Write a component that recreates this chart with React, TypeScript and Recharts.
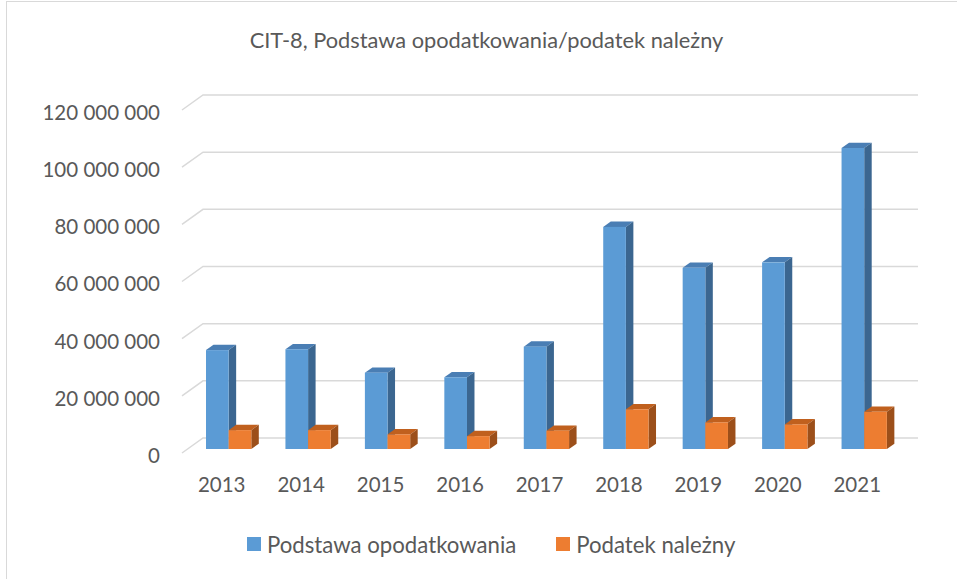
import React from 'react';
import { BarChart, Bar, XAxis, YAxis, CartesianGrid, Legend } from 'recharts';

const years = ['2013', '2014', '2015', '2016', '2017', '2018', '2019', '2020', '2021'];
const podstawa = [34600000, 34900000, 26700000, 25100000, 35800000, 77700000, 63400000, 65300000, 105300000];
const podatek = [6600000, 6600000, 5100000, 4500000, 6400000, 13900000, 9300000, 8600000, 13000000];
const yTicks = [0, 20000000, 40000000, 60000000, 80000000, 100000000, 120000000];
const seriesNames = ['Podstawa opodatkowania', 'Podatek należny'];
const title = 'CIT-8, Podstawa opodatkowania/podatek należny';

const data = years.map((year, i) => ({ year, podstawa: podstawa[i], podatek: podatek[i] }));

const FONT = 'Lato, "Open Sans", sans-serif';
const TEXT = '#595959';
const FS = 20.5;
const TITLE_FS = 21.8;
const LEGEND_FS = 22.2;

// 3D look parameters
const DX = 7;
const DY = -4;
const DW = 7.5;
const DH = 5.3;
const GX = 21;
const GY = 15;

const COLORS = {
  blue: { front: '#5B9BD5', top: '#4A7EB4', side: '#3B6690' },
  orange: { front: '#ED7D31', top: '#C0601E', side: '#9C4F1A' },
};

const fmt = (v: number) => String(v).replace(/\B(?=(\d{3})+(?!\d))/g, ' ');

const make3D = (c: { front: string; top: string; side: string }) => (props: any) => {
  const { x, y, width, height } = props;
  if (width == null || height == null || isNaN(x) || isNaN(y)) return <g />;
  const fx = x + DX;
  const fy = y + DY;
  const w = width;
  const h = height;
  return (
    <g>
      <polygon
        points={`${fx},${fy} ${fx + DW},${fy - DH} ${fx + w + DW},${fy - DH} ${fx + w},${fy}`}
        fill={c.top}
      />
      <polygon
        points={`${fx + w},${fy} ${fx + w + DW},${fy - DH} ${fx + w + DW},${fy + h - DH} ${fx + w},${fy + h}`}
        fill={c.side}
      />
      <rect x={fx} y={fy} width={w} height={h} fill={c.front} />
    </g>
  );
};

const gridLine = (props: any) => {
  const { x1, y1, x2, key } = props;
  return (
    <path
      key={key}
      d={`M${x1},${y1} L${x1 + GX},${y1 - GY} L${x2 + GX},${y1 - GY}`}
      stroke="#D9D9D9"
      strokeWidth={1.5}
      fill="none"
    />
  );
};

const YTick = (props: any) => {
  const { x, y, payload } = props;
  return (
    <text x={x} y={y + 2.5} dy="0.36em" textAnchor="end" fill={TEXT} fontSize={FS} fontFamily={FONT}>
      {fmt(payload.value)}
    </text>
  );
};

const XTick = (props: any) => {
  const { x, y, payload } = props;
  return (
    <text x={x} y={y} dy="0.36em" textAnchor="middle" fill={TEXT} fontSize={FS} fontFamily={FONT}>
      {payload.value}
    </text>
  );
};

const LegendContent = () => (
  <div
    style={{
      display: 'flex',
      alignItems: 'center',
      height: 40,
      paddingLeft: 247,
      fontFamily: FONT,
      fontSize: LEGEND_FS,
      color: TEXT,
      whiteSpace: 'nowrap',
    }}
  >
    <span style={{ display: 'inline-block', width: 14, height: 14, background: COLORS.blue.front, marginRight: 6 }} />
    <span style={{ marginRight: 40 }}>{seriesNames[0]}</span>
    <span style={{ display: 'inline-block', width: 14, height: 14, background: COLORS.orange.front, marginRight: 6 }} />
    <span>{seriesNames[1]}</span>
  </div>
);

export default function App() {
  return (
    <div style={{ position: 'absolute', left: 0, top: 0, width: 957, height: 579, background: '#fff', overflow: 'hidden' }}>
      <div
        style={{
          position: 'absolute',
          left: 6,
          top: 1,
          width: 1200,
          height: 1200,
          borderLeft: '1.5px solid #D9D9D9',
          borderTop: '1.5px solid #D9D9D9',
        }}
      />
      <div style={{ position: 'absolute', left: 0, top: 0 }}>
        <BarChart
          width={957}
          height={579}
          data={data}
          margin={{ top: 110, right: 60, left: 0, bottom: 15 }}
          barGap={0}
          barSize={22.65}
        >
          <text x={486.5} y={48.3} textAnchor="middle" fill={TEXT} fontSize={TITLE_FS} fontFamily={FONT}>
            {title}
          </text>
          <CartesianGrid vertical={false} horizontal={gridLine} />
          <XAxis
            dataKey="year"
            interval={0}
            axisLine={false}
            tickLine={false}
            tickSize={0}
            tickMargin={32}
            height={71}
            tick={<XTick />}
          />
          <YAxis
            domain={[0, 120000000]}
            ticks={yTicks}
            interval={0}
            axisLine={false}
            tickLine={false}
            tickSize={0}
            tickMargin={22}
            width={182}
            tick={<YTick />}
          />
          <Legend verticalAlign="bottom" height={40} content={<LegendContent />} />
          <Bar dataKey="podstawa" name={seriesNames[0]} fill={COLORS.blue.front} isAnimationActive={false} shape={make3D(COLORS.blue)} />
          <Bar dataKey="podatek" name={seriesNames[1]} fill={COLORS.orange.front} isAnimationActive={false} shape={make3D(COLORS.orange)} />
        </BarChart>
      </div>
    </div>
  );
}
